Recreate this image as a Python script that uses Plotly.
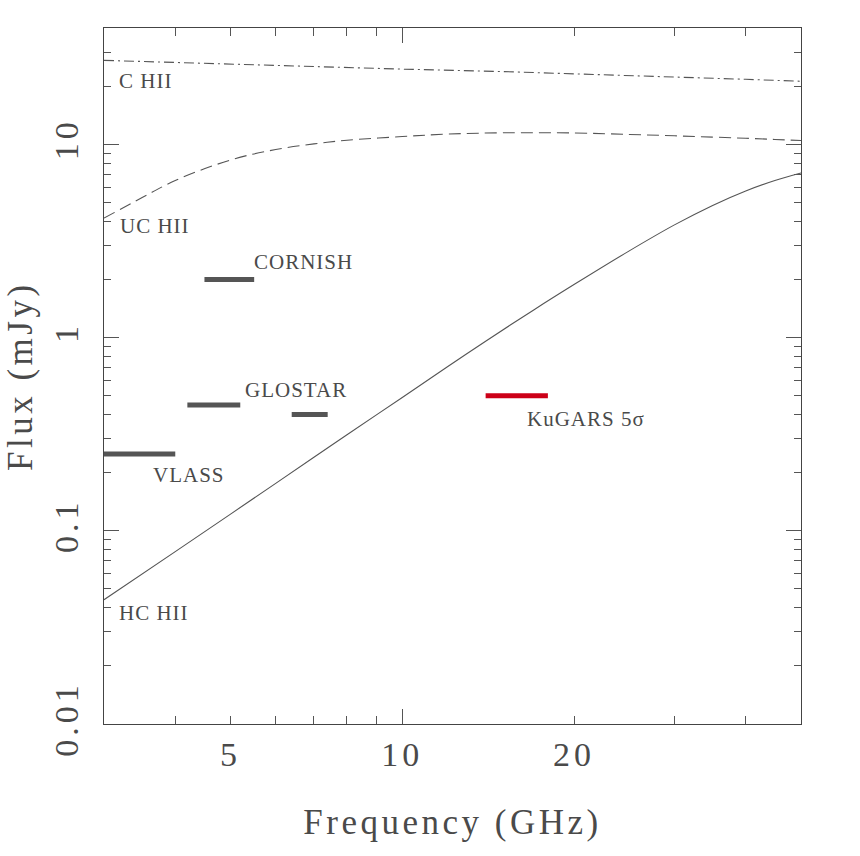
import math
import plotly.graph_objects as go

# ---------------- data ----------------
freq_chii = [3, 4, 5, 7, 10, 15, 20, 30, 40, 50]
flux_chii = [27.2, 26.5, 25.9, 25.1, 24.5, 23.8, 23.2, 22.3, 21.7, 21.2]

freq_uchii = [3, 3.5, 4, 5, 6, 7, 8, 10, 12, 15, 20, 25, 30, 35, 40, 45, 50]
flux_uchii = [4.15, 5.3, 6.5, 8.3, 9.4, 10.05, 10.5, 10.97, 11.3, 11.47, 11.45, 11.25,
              11.07, 10.9, 10.75, 10.6, 10.46]

freq_hchii = [3, 4, 5, 6, 7, 8, 10, 12, 14, 17, 20, 25, 30, 35, 40, 45, 50]
flux_hchii = [0.044, 0.078, 0.122, 0.176, 0.240, 0.314, 0.49, 0.706, 0.957, 1.39, 1.88,
              2.81, 3.83, 4.83, 5.74, 6.50, 7.11]

# survey sensitivity bars: (start GHz, end GHz, flux mJy)
survey_names = ["VLASS", "CORNISH", "GLOSTAR", "GLOSTAR", "KuGARS"]
survey_f0 = [2.0, 4.5, 4.2, 6.4, 14.0]
survey_f1 = [4.0, 5.5, 5.2, 7.4, 18.0]
survey_flux = [0.25, 2.0, 0.447, 0.4, 0.5]
survey_colors = ["#555555", "#555555", "#555555", "#555555", "#cc0018"]

# text labels (left edge frequency, vertical-centre flux)
label_text = ["C HII", "UC HII", "HC HII", "CORNISH", "GLOSTAR", "VLASS", "KuGARS 5σ"]
label_freq = [3.16, 3.17, 3.16, 5.45, 5.25, 3.62, 16.4]
label_flux = [21.3, 3.79, 0.0374, 2.46, 0.534, 0.194, 0.378]

x_tick_vals = [5, 10, 20]
x_tick_text = ["5", "10", "20"]
x_minor_vals = [4, 6, 7, 8, 9, 30, 40]
y_tick_vals = [0.01, 0.1, 1, 10]
y_tick_text = ["0.01", "0.1", "1", "10"]
y_minor_vals = [0.02, 0.03, 0.04, 0.05, 0.06, 0.07, 0.08, 0.09,
                0.2, 0.3, 0.4, 0.5, 0.6, 0.7, 0.8, 0.9,
                2, 3, 4, 5, 6, 7, 8, 9, 20, 30]

x_range = [3, 50]
y_range = [0.01, 40]

x_title = "Frequency (GHz)"
y_title = "Flux (mJy)"

# ---------------- styling ----------------
FONT = "Liberation Serif"
GREY = "#555555"
TXT = "#4a4a4a"
W, H = 860, 856
ML, MR, MT, MB = 104, 59, 28, 132
PLOT_W = W - ML - MR


def spaced(s, ls):
    return '<span style="letter-spacing:%spx">%s</span>' % (ls, s)


fig = go.Figure()

fig.add_trace(go.Scatter(x=freq_chii, y=flux_chii, mode="lines",
                         line=dict(color=GREY, width=1.1, dash="10px,4px,2px,4px"),
                         showlegend=False, hoverinfo="skip"))
fig.add_trace(go.Scatter(x=freq_uchii, y=flux_uchii, mode="lines", line_shape="spline",
                         line=dict(color=GREY, width=1.1, dash="12px,6px"),
                         showlegend=False, hoverinfo="skip"))
fig.add_trace(go.Scatter(x=freq_hchii, y=flux_hchii, mode="lines", line_shape="spline",
                         line=dict(color=GREY, width=1.1),
                         showlegend=False, hoverinfo="skip"))

for name, f0, f1, fl, c in zip(survey_names, survey_f0, survey_f1, survey_flux, survey_colors):
    fig.add_trace(go.Scatter(x=[f0, f1], y=[fl, fl], mode="lines",
                             line=dict(color=c, width=5),
                             name=name, showlegend=False, hoverinfo="skip"))

# invisible trace to carry the overlay axis (long decade tick on x)
fig.add_trace(go.Scatter(x=[10], y=[1], xaxis="x2", mode="markers",
                         marker=dict(opacity=0), showlegend=False, hoverinfo="skip"))

for t, fx, fy in zip(label_text, label_freq, label_flux):
    fig.add_annotation(x=math.log10(fx), y=math.log10(fy), xref="x", yref="y",
                       text=spaced(t, 1), showarrow=False, xanchor="left", yanchor="middle",
                       font=dict(family=FONT, size=21, color=TXT))

# y-axis title as a rotated annotation, centred 84px left of the plot area
fig.add_annotation(x=-84 / PLOT_W, y=0.5, xref="paper", yref="paper",
                   text=spaced(y_title, 3.5), textangle=-90, showarrow=False,
                   xanchor="center", yanchor="middle",
                   font=dict(family=FONT, size=35, color=TXT))

axis_common = dict(
    type="log", showgrid=False, zeroline=False, showline=True, linecolor="#444444",
    linewidth=1, mirror="ticks", ticks="inside", tickcolor=GREY, tickwidth=1,
    automargin=False,
)

fig.update_layout(
    width=W, height=H,
    margin=dict(l=ML, r=MR, t=MT, b=MB),
    paper_bgcolor="white", plot_bgcolor="white",
    showlegend=False,
    xaxis=dict(
        **axis_common,
        range=[math.log10(x_range[0]), math.log10(x_range[1])],
        tickmode="array", tickvals=x_tick_vals,
        ticktext=[spaced(t, 4) for t in x_tick_text],
        ticklen=8,
        tickfont=dict(family=FONT, size=34, color=TXT),
        minor=dict(tickmode="array", tickvals=x_minor_vals, ticks="inside",
                   ticklen=8, tickcolor=GREY, tickwidth=1),
        title=dict(text=spaced(x_title, 3.5),
                   font=dict(family=FONT, size=35, color=TXT), standoff=37),
    ),
    xaxis2=dict(
        type="log", overlaying="x", anchor="y", side="bottom", automargin=False,
        range=[math.log10(x_range[0]), math.log10(x_range[1])],
        tickmode="array", tickvals=[10], ticks="inside", ticklen=15,
        tickcolor=GREY, tickwidth=1, showticklabels=False, showgrid=False,
        zeroline=False, showline=False, mirror="ticks",
    ),
    yaxis=dict(
        **axis_common,
        range=[math.log10(y_range[0]), math.log10(y_range[1])],
        tickmode="array", tickvals=y_tick_vals,
        ticktext=[spaced(t, 4) for t in y_tick_text],
        ticklen=15, tickangle=-90, ticklabelstandoff=11,
        tickfont=dict(family=FONT, size=34, color=TXT),
        minor=dict(tickmode="array", tickvals=y_minor_vals, ticks="inside",
                   ticklen=7, tickcolor=GREY, tickwidth=1),
    ),
)

# remove the default 8px page margin so the figure fills the window exactly
fig.write_html("out.html",
               config={"displayModeBar": False},
               post_script="document.body.style.margin='0px';")
